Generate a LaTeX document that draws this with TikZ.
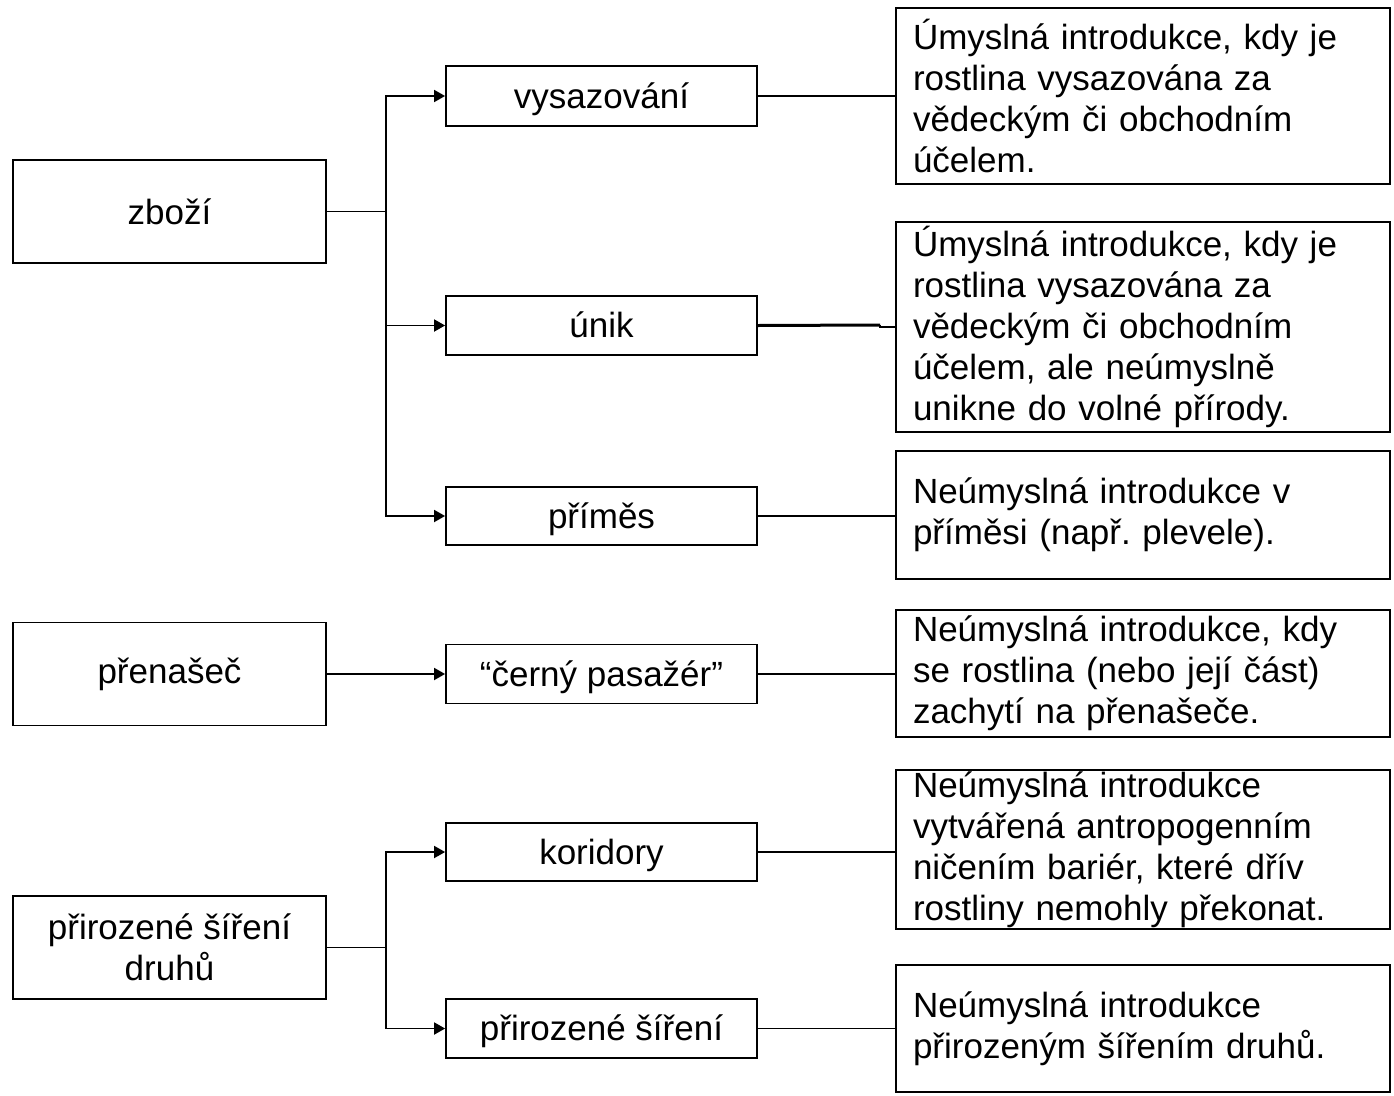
\documentclass[tikz,border=0pt]{standalone}
\usepackage{fontspec}
\setmainfont{Liberation Sans}
\usetikzlibrary{arrows.meta}
\frenchspacing
\begin{document}
\begin{tikzpicture}[x=1pt,y=-1pt,
  every node/.style={font=\fontsize{35}{41}\selectfont},
  leftbox/.style={draw,line width=1.8pt,minimum width=313pt,minimum height=103pt,align=center,inner sep=0pt},
  midbox/.style={draw,line width=1.8pt,minimum width=311pt,minimum height=59pt,inner sep=0pt,text height=29pt,text depth=5pt},
  descbox/.style={draw,line width=1.8pt,text width=460pt,inner xsep=17pt,inner ysep=0pt,align=left},
  conn/.style={line width=1.8pt},
  arr/.style={line width=1.8pt,-{Triangle[length=11pt,width=12pt]}}]
\useasboundingbox[fill=white] (0,0) rectangle (1394,1095);

% left boxes
\node[leftbox] (zbozi) at (169.5,211.5) {zboží};
\node[leftbox] (prenasec) at (169.5,674) {přenašeč};
\node[leftbox] (prirozene) at (169.5,947.5) {přirozené šíření\\druhů};

% middle boxes
\node[midbox,minimum height=60pt] (vys) at (601.5,96) {vysazování};
\node[midbox] (unik) at (601.5,325.5) {únik};
\node[midbox,minimum height=58pt] (primes) at (601.5,516) {příměs};
\node[midbox] (cerny) at (601.5,674) {“černý pasažér”};
\node[midbox,minimum height=58pt] (kor) at (601.5,852) {koridory};
\node[midbox] (pss) at (601.5,1028.5) {přirozené šíření};

% description boxes
\node[descbox,minimum height=176pt] (d1) at (1143,96) {Úmyslná introdukce, kdy je\\rostlina vysazována za\\vědeckým či obchodním\\účelem.};
\node[descbox,minimum height=210pt] (d2) at (1143,327) {Úmyslná introdukce, kdy je\\rostlina vysazována za\\vědeckým či obchodním\\účelem, ale neúmyslně\\unikne do volné přírody.};
\node[descbox,minimum height=128pt] (d3) at (1143,515) {Neúmyslná introdukce v\\příměsi (např. plevele).};
\node[descbox,minimum height=127pt] (d4) at (1143,673.5) {Neúmyslná introdukce, kdy\\se rostlina (nebo její část)\\zachytí na přenašeče.};
\node[descbox,minimum height=159pt] (d5) at (1143,849.5) {Neúmyslná introdukce\\vytvářená antropogenním\\ničením bariér, které dřív\\rostliny nemohly překonat.};
\node[descbox,minimum height=127pt] (d6) at (1143,1028.5) {Neúmyslná introdukce\\přirozeným šířením druhů.};

% tree connectors
\coordinate (j1) at (386,211.5);
\coordinate (j3) at (386,947.5);
\draw[conn] (zbozi.east) -- (j1);
\draw[arr] (j1) |- (vys.west);
\draw[arr] (j1) |- (primes.west);
\draw[arr] (386,325.5) -- (unik.west);
\draw[arr] (prenasec.east) -- (cerny.west);
\draw[conn] (prirozene.east) -- (j3);
\draw[arr] (j3) |- (kor.west);
\draw[arr] (j3) |- (pss.west);

% connectors to descriptions
\draw[conn] (vys.east) -- (vys.east -| d1.west);
\coordinate (ukend) at (880,325);
\draw[line width=3pt] (unik.east) -- (ukend);
\draw[conn] (ukend) |- (d2.west);
\draw[conn] (primes.east) -- (primes.east -| d3.west);
\draw[conn] (cerny.east) -- (cerny.east -| d4.west);
\draw[conn] (kor.east) -- (kor.east -| d5.west);
\draw[conn] (pss.east) -- (pss.east -| d6.west);
\end{tikzpicture}
\end{document}
